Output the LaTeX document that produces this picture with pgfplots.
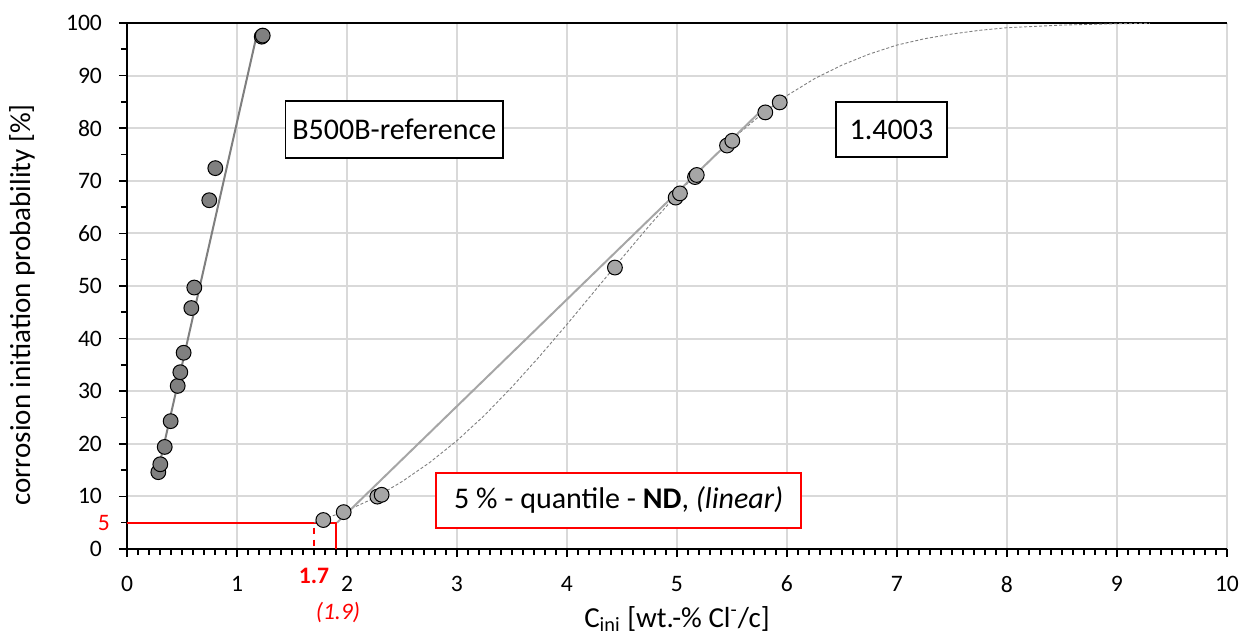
\documentclass[border=0pt]{standalone}
\usepackage{fontspec}
\setmainfont{Carlito}
\usepackage{pgfplots}
\pgfplotsset{compat=1.18}
\definecolor{gridc}{HTML}{D9D9D9}
\definecolor{darkpt}{HTML}{808080}
\definecolor{lightpt}{HTML}{A6A6A6}
\definecolor{fitc}{HTML}{7F7F7F}
\definecolor{xred}{HTML}{FF0000}

\begin{document}
\begin{tikzpicture}
\begin{axis}[
  scale only axis, width=550pt, height=263pt,
  xmin=0, xmax=10, ymin=0, ymax=100,
  xtick={0,1,...,10}, ytick={0,10,...,100},
  minor x tick num=9, minor y tick num=1,
  extra x ticks={1.7}, extra x tick labels={\textcolor{xred}{\textbf{1.7}}},
  extra x tick style={grid=none, major tick length=0pt},
  extra y ticks={5}, extra y tick labels={\textcolor{xred}{5}},
  extra y tick style={grid=none, major tick length=0pt},
  axis x line*=bottom, axis y line*=left,
  axis line style={-, line width=1pt, black},
  tick align=outside, major tick length=4pt, minor tick length=3pt,
  every tick/.style={black, line width=0.8pt},
  xmajorgrids, ymajorgrids,
  grid style={gridc, line width=1pt},
  tick label style={font=\fontsize{11.8}{13}\selectfont},
  /pgf/number format/assume math mode=true,
  xticklabel style={yshift=-6pt},
  yticklabel style={xshift=-5pt},
  label style={font=\fontsize{14.5}{16}\selectfont},
  xlabel={C\textsubscript{ini} [wt.-\% Cl\textsuperscript{-}/c]},
  ylabel={corrosion initiation probability [\%]},
  xlabel style={at={(axis description cs:0.5,-0.149)}, anchor=base},
  ylabel style={at={(axis description cs:-0.0955,0.464)}, anchor=center},
  clip=false,
]
% top border
\addplot[black, line width=0.8pt] coordinates {(0,100) (10,100)};
% 5 % quantile guides
\addplot[xred, line width=1pt] coordinates {(0,5) (1.9,5) (1.9,0)};
\addplot[xred, line width=1pt, dashed] coordinates {(0,5) (1.7,5) (1.7,0)};
% fitted normal distribution, 1.4003
\addplot[fitc, line width=0.45pt, dash pattern=on 1.5pt off 1pt] coordinates {
(1.7,5.0) (2.0,7.3) (2.25,9.7) (2.5,12.8) (2.75,16.4) (3.0,20.6) (3.25,25.4)
(3.5,30.8) (3.75,36.6) (4.0,42.7) (4.25,49.0) (4.5,55.3) (4.75,61.5) (5.0,67.4)
(5.25,72.9) (5.5,77.9) (5.75,82.3) (6.0,86.2) (6.25,89.4) (6.5,92.0) (6.75,94.1)
(7.0,95.8) (7.25,97.0) (7.5,97.9) (7.75,98.6) (8.0,99.1) (8.5,99.6) (9.0,99.86) (9.3,99.93)};
% linear fits
\addplot[fitc, line width=1pt] coordinates {(0.27,13.7) (1.173,97.1)};
\addplot[lightpt, line width=1pt] coordinates {(1.91,5.0) (5.75,83.0)};
% B500B-reference
\addplot[only marks, mark=*, mark size=3.7pt, mark options={fill=darkpt, draw=black, line width=0.5pt}] coordinates {
(0.285,14.6) (0.303,16.1) (0.343,19.4) (0.397,24.3) (0.461,31.0) (0.485,33.6)
(0.515,37.3) (0.585,45.8) (0.612,49.7) (0.748,66.3) (0.803,72.4) (1.225,97.4) (1.234,97.6)};
% 1.4003
\addplot[only marks, mark=*, mark size=3.7pt, mark options={fill=lightpt, draw=black, line width=0.5pt}] coordinates {
(1.785,5.5) (1.97,7.0) (2.276,9.95) (2.315,10.3) (4.436,53.5) (4.988,66.8) (5.027,67.6)
(5.164,70.7) (5.18,71.1) (5.455,76.7) (5.503,77.6) (5.803,83.0) (5.934,84.9)};
% boxes
\node[draw=black, line width=0.8pt, fill=white, minimum width=108pt, minimum height=28.5pt, font=\fontsize{15}{16}\selectfont] at (axis cs:2.43,79.8) {B500B-reference};
\node[draw=black, line width=0.8pt, fill=white, minimum width=55.5pt, minimum height=27.5pt, font=\fontsize{15}{16}\selectfont] at (axis cs:6.95,79.7) {1.4003};
\node[draw=xred, line width=1pt, fill=white, minimum width=182.5pt, minimum height=27.5pt, font=\fontsize{15}{16}\selectfont] at (axis cs:4.47,9.3) {5 \% - quantile - \textbf{ND}, \textit{(linear)}};
\node[text=xred, font=\fontsize{11.8}{13}\itshape] at (axis cs:1.918,-12.1) {(1.9)};
\coordinate (bl) at (axis cs:-1.1545,-17.49);
\coordinate (tr) at (axis cs:10.155,104.37);
\end{axis}
\pgfresetboundingbox
\path[use as bounding box] (bl) rectangle (tr);
\end{tikzpicture}
\end{document}
